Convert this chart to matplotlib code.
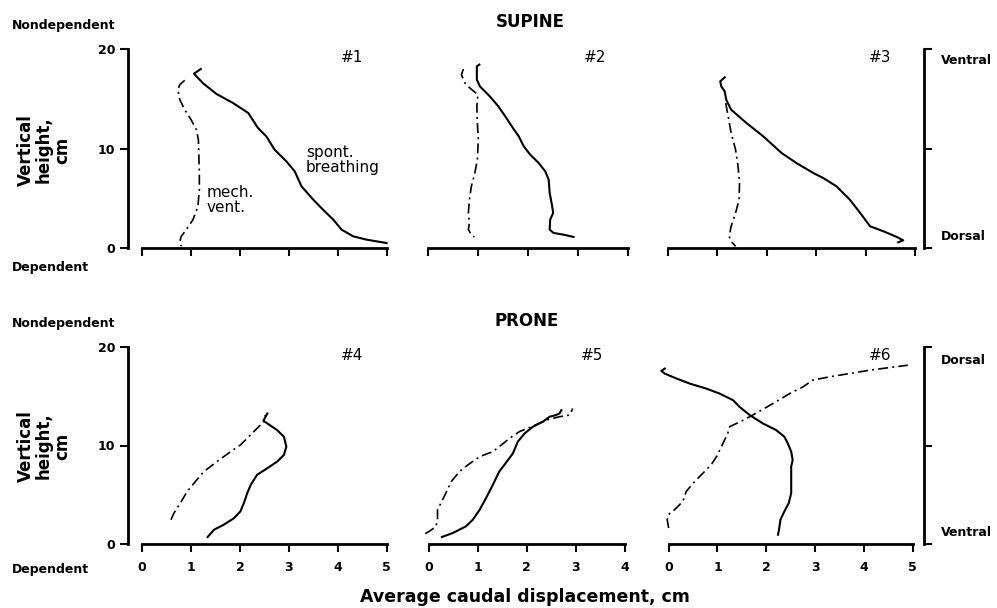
import matplotlib.pyplot as plt

W, H = 997, 608

# ---- data (x: caudal displacement cm, y: vertical height cm) ----
# #1 supine
s1_spont_x = [1.20, 1.06, 1.24, 1.52, 1.86, 2.17, 2.37, 2.54, 2.71, 2.95, 3.12, 3.26, 3.50, 3.70, 3.91, 4.08, 4.32, 4.59, 5.00]
s1_spont_y = [17.99, 17.52, 16.58, 15.48, 14.57, 13.57, 12.06, 11.22, 9.88, 8.71, 7.71, 6.20, 4.86, 3.85, 2.85, 1.84, 1.17, 0.84, 0.50]
s1_mech_x = [0.87, 0.77, 0.73, 0.77, 0.87, 1.00, 1.11, 1.15, 1.16, 1.17, 1.17, 1.14, 1.04, 0.90, 0.80, 0.77, 0.80]
s1_mech_y = [16.85, 16.42, 15.91, 14.91, 13.90, 12.90, 11.89, 10.89, 9.21, 7.54, 5.86, 4.19, 2.85, 1.84, 1.17, 0.67, 0.17]

# #2 supine
s2_spont_x = [1.03, 0.98, 0.98, 1.04, 1.24, 1.41, 1.55, 1.68, 1.82, 1.92, 2.05, 2.22, 2.35, 2.42, 2.44, 2.49, 2.51, 2.45, 2.44, 2.52, 2.72, 2.92]
s2_spont_y = [18.43, 18.26, 16.92, 16.25, 15.24, 14.24, 13.23, 12.23, 11.22, 10.22, 9.38, 8.54, 7.71, 6.87, 5.53, 4.19, 3.52, 2.85, 1.84, 1.51, 1.34, 1.11]
s2_mech_x = [0.71, 0.67, 0.74, 0.84, 1.00, 0.98, 0.99, 1.01, 0.99, 0.94, 0.87, 0.83, 0.81, 0.83, 0.81, 0.87, 0.93]
s2_mech_y = [17.99, 17.42, 16.58, 16.08, 15.41, 14.24, 12.56, 10.89, 8.88, 7.54, 6.20, 4.86, 3.52, 2.51, 1.84, 1.34, 1.11]

# #3 supine
s3_spont_x = [1.15, 1.06, 1.08, 1.15, 1.18, 1.28, 1.59, 1.93, 2.30, 2.60, 2.94, 3.14, 3.41, 3.68, 3.89, 4.09, 4.36, 4.63, 4.76, 4.66]
s3_spont_y = [17.15, 16.75, 16.25, 15.74, 14.91, 13.90, 12.56, 11.22, 9.55, 8.54, 7.54, 7.04, 6.20, 4.86, 3.52, 2.18, 1.68, 1.11, 0.77, 0.57]
s3_mech_x = [1.17, 1.22, 1.28, 1.37, 1.42, 1.45, 1.44, 1.37, 1.28, 1.24, 1.28, 1.37]
s3_mech_y = [14.57, 13.23, 11.56, 9.88, 8.21, 6.53, 4.86, 3.52, 2.18, 1.17, 0.67, 0.17]

# #4 prone
p4_spont_x = [1.34, 1.47, 1.67, 1.88, 2.01, 2.08, 2.15, 2.22, 2.35, 2.56, 2.76, 2.90, 2.95, 2.90, 2.76, 2.56, 2.48, 2.56]
p4_spont_y = [0.71, 1.45, 1.96, 2.63, 3.31, 4.15, 5.16, 6.00, 7.02, 7.69, 8.36, 9.04, 9.88, 10.89, 11.57, 12.24, 12.51, 13.25]
p4_mech_x = [0.59, 0.65, 0.78, 0.92, 1.06, 1.26, 1.53, 1.81, 2.01, 2.18, 2.35, 2.49, 2.52]
p4_mech_y = [2.46, 3.14, 4.15, 5.33, 6.17, 7.35, 8.36, 9.38, 10.05, 10.89, 11.74, 12.41, 13.09]

# #5 prone
p5_spont_x = [0.27, 0.49, 0.76, 0.90, 1.04, 1.17, 1.31, 1.44, 1.62, 1.72, 1.82, 1.96, 2.13, 2.33, 2.47, 2.60, 2.67, 2.71]
p5_spont_y = [0.71, 1.11, 1.79, 2.46, 3.47, 4.65, 6.00, 7.35, 8.53, 9.21, 10.39, 11.23, 11.91, 12.41, 12.92, 13.09, 13.25, 13.59]
p5_mech_x = [-0.07, 0.01, 0.15, 0.18, 0.18, 0.25, 0.35, 0.46, 0.63, 0.80, 1.04, 1.31, 1.44, 1.65, 1.85, 2.13, 2.40, 2.67, 2.88, 2.94]
p5_mech_y = [1.05, 1.28, 1.79, 2.46, 3.47, 4.15, 5.16, 6.34, 7.35, 8.03, 8.87, 9.38, 9.88, 10.72, 11.40, 11.97, 12.58, 12.92, 13.09, 13.76]

# #6 prone
p6_spont_x = [-0.08, -0.15, -0.08, 0.16, 0.43, 0.77, 1.04, 1.32, 1.45, 1.66, 1.93, 2.20, 2.37, 2.44, 2.51, 2.54, 2.51, 2.51, 2.51, 2.46, 2.37, 2.29, 2.26, 2.24]
p6_spont_y = [17.81, 17.57, 17.30, 16.80, 16.29, 15.78, 15.28, 14.60, 13.93, 13.09, 12.24, 11.57, 10.89, 10.22, 9.38, 8.53, 7.86, 6.51, 5.16, 4.15, 3.31, 2.46, 1.45, 0.94]
p6_mech_x = [0.00, -0.03, -0.01, 0.12, 0.29, 0.36, 0.50, 0.70, 0.87, 0.98, 1.08, 1.21, 1.25, 1.39, 1.66, 1.96, 2.20, 2.48, 2.75, 2.95, 3.29, 3.70, 4.11, 4.52, 4.90]
p6_mech_y = [1.62, 2.46, 2.97, 3.47, 4.32, 5.33, 6.17, 7.18, 8.03, 8.87, 9.88, 11.23, 11.91, 12.24, 12.92, 13.76, 14.44, 15.28, 15.95, 16.63, 16.97, 17.30, 17.64, 17.91, 18.15]

fig = plt.figure(figsize=(W / 100, H / 100), dpi=100)


def px_axes(left, top, right, bottom):
    return fig.add_axes([left / W, 1 - bottom / H, (right - left) / W, (bottom - top) / H])


def px_text(x, y, s, **kw):
    fig.text(x / W, 1 - y / H, s, **kw)


# (box in pixels, xlim, last x tick, left axis, right bracket, x labels, data, tag)
panels = [
    ((128, 49, 389, 248), (-0.29, 5.05), 5, True, False, False,
     (s1_spont_x, s1_spont_y, s1_mech_x, s1_mech_y), '#1', (352, 57)),
    ((413, 49, 630, 248), (-0.3, 4.05), 4, False, False, False,
     (s2_spont_x, s2_spont_y, s2_mech_x, s2_mech_y), '#2', (595, 57)),
    ((653, 49, 924, 248), (-0.3, 5.18), 5, False, True, False,
     (s3_spont_x, s3_spont_y, s3_mech_x, s3_mech_y), '#3', (880, 57)),
    ((128, 347, 389, 544), (-0.29, 5.05), 5, True, False, True,
     (p4_spont_x, p4_spont_y, p4_mech_x, p4_mech_y), '#4', (352, 356)),
    ((414, 347, 627, 544), (-0.3, 4.05), 4, False, False, True,
     (p5_spont_x, p5_spont_y, p5_mech_x, p5_mech_y), '#5', (592, 355)),
    ((654, 347, 924, 544), (-0.3, 5.23), 5, False, True, True,
     (p6_spont_x, p6_spont_y, p6_mech_x, p6_mech_y), '#6', (880, 355)),
]

for box, xlim, xmax, has_left, has_right, xlabels, data, tag, tag_pos in panels:
    ax = px_axes(*box)
    sx, sy, mx, my = data
    ax.plot(sx, sy, color='black', lw=1.5, clip_on=False)
    ax.plot(mx, my, color='black', lw=1.2, linestyle=(0, (6, 2.5, 1.2, 2.5)), clip_on=False)
    ax.set_xlim(*xlim)
    ax.set_ylim(0, 20)
    ax.patch.set_visible(False)

    ax.spines['top'].set_visible(False)
    ax.spines['left'].set_visible(has_left)
    ax.spines['right'].set_visible(has_right)
    for side in ['left', 'right', 'bottom']:
        ax.spines[side].set_linewidth(2)
    ax.spines['bottom'].set_bounds(0, xmax)
    ax.spines['left'].set_bounds(0, 20)
    ax.spines['right'].set_bounds(0, 20)

    ax.set_xticks(range(xmax + 1))
    if xlabels:
        ax.set_xticklabels([str(v) for v in range(xmax + 1)], fontweight='bold', fontsize=9)
    else:
        ax.set_xticklabels([])
    ax.tick_params(axis='x', direction='out', length=6, width=1.5, pad=6)

    if has_left:
        ax.set_yticks([0, 10, 20])
        ax.set_yticklabels(['0', '10', '20'], fontweight='bold', fontsize=9)
        ax.tick_params(axis='y', direction='out', length=6, width=1.5, pad=3)
    elif has_right:
        ax.yaxis.tick_right()
        ax.set_yticks([0, 10, 20])
        ax.set_yticklabels([])
        ax.tick_params(axis='y', direction='out', length=6, width=1.5)
    else:
        ax.set_yticks([])

    px_text(tag_pos[0], tag_pos[1], tag, fontsize=11, ha='center', va='center')

# annotations in panel 1
px_text(207, 200, 'mech.\nvent.', fontsize=11, ha='left', va='center', linespacing=1.05)
px_text(306, 160, 'spont.\nbreathing', fontsize=11, ha='left', va='center', linespacing=1.05)

# titles
px_text(530, 22, 'SUPINE', fontsize=12, fontweight='bold', ha='center', va='center')
px_text(527, 321, 'PRONE', fontsize=12, fontweight='bold', ha='center', va='center')

# left side labels
for top_y, bot_y, lab_y in [(26, 268, 150), (323, 570, 446)]:
    px_text(12, top_y, 'Nondependent', fontsize=9, fontweight='bold', ha='left', va='center')
    px_text(12, bot_y, 'Dependent', fontsize=9, fontweight='bold', ha='left', va='center')
    px_text(44, lab_y, 'Vertical\nheight,\ncm', fontsize=12, fontweight='bold', rotation=90,
            ha='center', va='center', multialignment='center', linespacing=1.0)

# right bracket labels
px_text(941, 60, 'Ventral', fontsize=9, fontweight='bold', ha='left', va='center')
px_text(941, 237, 'Dorsal', fontsize=9, fontweight='bold', ha='left', va='center')
px_text(941, 361, 'Dorsal', fontsize=9, fontweight='bold', ha='left', va='center')
px_text(941, 533, 'Ventral', fontsize=9, fontweight='bold', ha='left', va='center')

px_text(525, 597, 'Average caudal displacement, cm', fontsize=12.5, fontweight='bold',
        ha='center', va='center')

fig.savefig('out.png', dpi=100)
